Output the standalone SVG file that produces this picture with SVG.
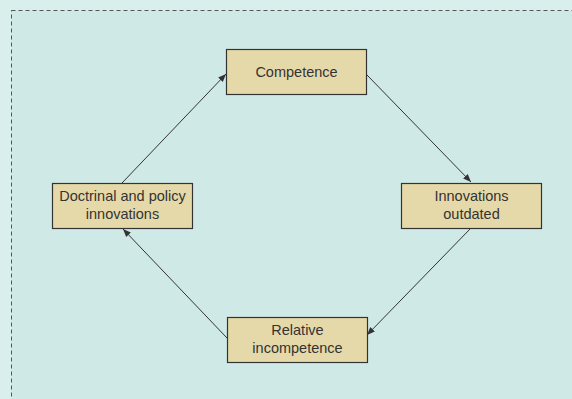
<svg xmlns="http://www.w3.org/2000/svg" width="572" height="399" viewBox="0 0 572 399">
<defs>
<style>
.box{fill:#e6d9a9;stroke:#333;stroke-width:1.2}
.lbl{font-family:"Liberation Sans",Arial,sans-serif;font-size:14.5px;fill:#333;text-anchor:middle}
.con{stroke:#333;stroke-width:1;fill:none;marker-end:url(#ah)}
</style>
<marker id="ah" viewBox="0 0 10 10" refX="10" refY="5" markerWidth="8" markerHeight="8" orient="auto" markerUnits="userSpaceOnUse">
<path d="M0,1 L10,5 L0,9 Z" fill="#333"/>
</marker>
</defs>
<rect x="0" y="0" width="572" height="399" fill="#d9efec"/>
<rect x="11.5" y="10.5" width="620" height="420" fill="#cfe9e7" stroke="#555" stroke-width="1" stroke-dasharray="4,3"/>
<g id="connectors">
<line class="con" x1="122" y1="183" x2="226" y2="74"/>
<line class="con" x1="367" y1="75" x2="471" y2="182"/>
<line class="con" x1="471" y1="228" x2="367" y2="335"/>
<line class="con" x1="227" y1="338" x2="123" y2="229"/>
</g>
<g id="competence">
<rect class="box" x="226.5" y="49.5" width="140" height="45"/>
<text class="lbl" x="296.5" y="77">Competence</text>
</g>
<g id="innovations-outdated">
<rect class="box" x="401.5" y="183.5" width="140" height="45"/>
<text class="lbl" x="471.5" y="201">Innovations</text>
<text class="lbl" x="471.5" y="219">outdated</text>
</g>
<g id="relative-incompetence">
<rect class="box" x="227.5" y="317.5" width="140" height="45"/>
<text class="lbl" x="297.5" y="335">Relative</text>
<text class="lbl" x="297.5" y="353">incompetence</text>
</g>
<g id="doctrinal-policy">
<rect class="box" x="52.5" y="183.5" width="140" height="45"/>
<text class="lbl" x="122.5" y="201">Doctrinal and policy</text>
<text class="lbl" x="122.5" y="219">innovations</text>
</g>
</svg>
